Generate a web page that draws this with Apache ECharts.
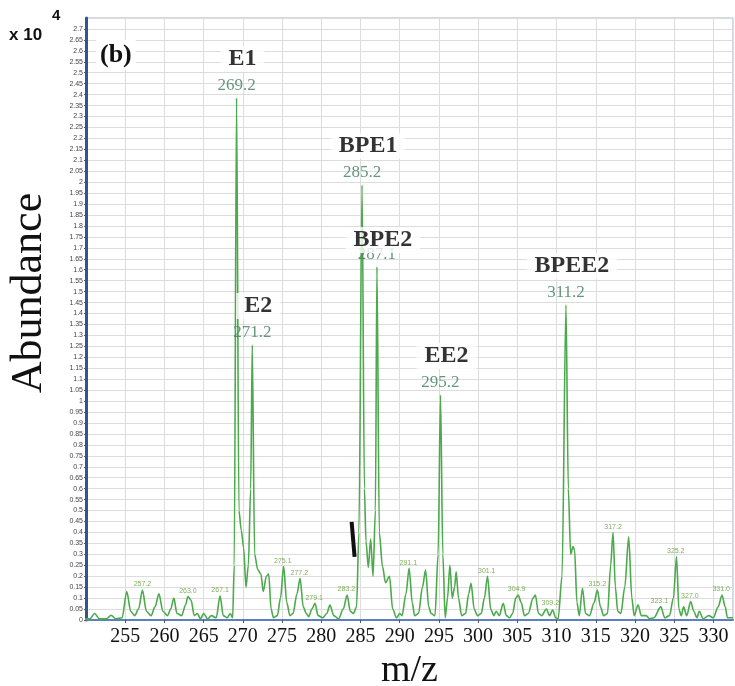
<!DOCTYPE html>
<html>
<head>
<meta charset="utf-8">
<script src="https://cdn.jsdelivr.net/npm/echarts@6/dist/echarts.min.js"></script>
<style>
  html, body { margin: 0; padding: 0; background: #fff; }
  #myChart { width: 735px; height: 686px; }
</style>
</head>
<body>
<div id="myChart"></div>
<script>
// profile trace (m/z, abundance x 10^4)
var mzProfile = [
  249.4, 250.5, 251.1, 251.7, 252.6, 253.2, 253.8, 254.6, 255.2, 255.7,
  256.2, 256.7, 257.2, 257.7, 258.3, 258.8, 259.3, 259.8, 260.4, 260.8,
  261.2, 261.6, 262.2, 262.7, 263.0, 263.4, 263.8, 264.2, 264.6, 265.0,
  265.5, 266.0, 266.6, 267.1, 267.5, 268.0, 268.4, 268.7, 268.9, 269.2,
  269.5, 269.8, 270.1, 270.4, 270.7, 271.0, 271.2, 271.5, 271.9, 272.3,
  272.6, 273.0, 273.3, 273.6, 273.9, 274.4, 274.8, 275.2, 275.6, 276.0,
  276.4, 276.9, 277.3, 277.7, 278.1, 278.4, 278.8, 279.2, 279.6, 280.2,
  280.7, 281.1, 281.6, 282.2, 282.8, 283.3, 283.7, 284.1, 284.5, 284.8,
  285.2, 285.5, 285.7, 286.0, 286.3, 286.6, 286.9, 287.1, 287.4, 287.8,
  288.2, 288.7, 289.1, 289.6, 290.0, 290.3, 290.8, 291.2, 291.6, 291.9,
  292.4, 292.9, 293.3, 293.7, 294.0, 294.5, 294.9, 295.2, 295.5, 295.8,
  296.1, 296.4, 296.7, 297.0, 297.2, 297.5, 297.9, 298.4, 298.8, 299.1,
  299.5, 299.9, 300.4, 300.8, 301.2, 301.6, 302.0, 302.3, 302.7, 303.2,
  303.6, 304.0, 304.4, 304.8, 305.1, 305.5, 305.9, 306.4, 307.0, 307.3,
  307.7, 308.1, 308.7, 309.1, 309.5, 309.9, 310.2, 310.7, 311.2, 311.5,
  311.8, 312.1, 312.3, 312.6, 312.9, 313.3, 313.7, 314.2, 314.8, 315.2,
  315.6, 316.0, 316.5, 316.9, 317.2, 317.5, 317.8, 318.2, 318.7, 319.2,
  319.6, 319.9, 320.4, 320.8, 321.4, 321.9, 322.4, 323.3, 323.8, 324.4,
  324.9, 325.3, 325.6, 325.9, 326.2, 326.6, 327.1, 327.5, 327.9, 328.2,
  328.7, 329.4, 330.0, 330.6, 331.1, 331.5, 331.8, 332.5
]
var abundanceProfile = [
  0.005, 0.005, 0.03, 0.005, 0.005, 0.022, 0.005, 0.01, 0.13, 0.04,
  0.02, 0.05, 0.137, 0.04, 0.02, 0.06, 0.12, 0.04, 0.02, 0.05,
  0.10, 0.03, 0.02, 0.07, 0.107, 0.09, 0.02, 0.03, 0.005, 0.03,
  0.005, 0.02, 0.01, 0.11, 0.02, 0.01, 0.03, 0.01, 0.25, 2.385,
  0.5, 0.41, 0.33, 0.15, 0.25, 0.6, 1.256, 0.3, 0.23, 0.21,
  0.13, 0.2, 0.21, 0.05, 0.01, 0.02, 0.1, 0.245, 0.08, 0.02,
  0.03, 0.12, 0.19, 0.06, 0.03, 0.015, 0.05, 0.076, 0.02, 0.01,
  0.03, 0.068, 0.02, 0.005, 0.05, 0.114, 0.04, 0.03, 0.06, 0.4,
  1.987, 0.6, 0.36, 0.24, 0.37, 0.2, 0.5, 1.613, 0.4, 0.245,
  0.17, 0.2, 0.05, 0.01, 0.03, 0.02, 0.12, 0.236, 0.08, 0.02,
  0.03, 0.15, 0.228, 0.06, 0.03, 0.02, 0.3, 1.028, 0.3, 0.01,
  0.1, 0.25, 0.1, 0.15, 0.22, 0.1, 0.02, 0.03, 0.12, 0.168,
  0.05, 0.02, 0.03, 0.1, 0.2, 0.05, 0.02, 0.04, 0.02, 0.076,
  0.02, 0.01, 0.03, 0.1, 0.114, 0.08, 0.02, 0.03, 0.1, 0.114,
  0.03, 0.02, 0.05, 0.02, 0.045, 0.01, 0.005, 0.2, 1.439, 0.6,
  0.3, 0.335, 0.32, 0.08, 0.02, 0.145, 0.03, 0.02, 0.08, 0.137,
  0.06, 0.02, 0.03, 0.25, 0.40, 0.15, 0.04, 0.03, 0.15, 0.38,
  0.1, 0.02, 0.07, 0.02, 0.02, 0.005, 0.01, 0.06, 0.01, 0.02,
  0.1, 0.29, 0.05, 0.02, 0.06, 0.02, 0.084, 0.04, 0.01, 0.04,
  0.005, 0.02, 0.01, 0.06, 0.114, 0.06, 0.01, 0.01
]

// annotated main peaks
var peakNames = ['E1', 'E2', 'BPE1', 'BPE2', 'EE2', 'BPEE2']
var peakMz = [269.2, 271.2, 285.2, 287.1, 295.2, 311.2]
var peakAbundance = [2.385, 1.256, 1.987, 1.613, 1.028, 1.439]

// small labelled peaks
var minorMz = [257.2, 263.0, 267.1, 275.1, 277.2, 279.1, 283.2, 291.1, 301.1,
  304.9, 309.2, 315.2, 317.2, 323.1, 325.2, 327.0, 331.0]
var minorAbundance = [0.137, 0.107, 0.11, 0.245, 0.19, 0.076, 0.114, 0.236, 0.2,
  0.114, 0.05, 0.137, 0.40, 0.06, 0.29, 0.084, 0.114]

// the black pen stroke next to 285
var penStrokeMz = [283.87, 284.25]
var penStrokeAbundance = [0.448, 0.288]

var serif = '"Liberation Serif", "DejaVu Serif", serif'
var sans = '"Liberation Sans", Arial, sans-serif'

var myChart = echarts.init(document.getElementById('myChart'))

myChart.setOption({
  backgroundColor: '#fff',
  animation: false,
  grid: {
    left: 86,
    right: 2,
    top: 18,
    bottom: 66,
    outerBoundsMode: 'none',
    containLabel: false,
    show: true,
    borderColor: '#9fb3cf',
    borderWidth: 1
  },
  graphic: [
    {
      type: 'text',
      left: 9,
      top: 27,
      z: 100,
      style: { text: 'x 10', font: 'bold 17px ' + sans, fill: '#111' }
    },
    {
      type: 'text',
      left: 52,
      top: 8,
      z: 100,
      style: { text: '4', font: 'bold 15px ' + sans, fill: '#111' }
    },
    {
      type: 'text',
      left: 96,
      top: 40,
      z: 100,
      style: {
        text: '(b)',
        font: 'bold 26px ' + serif,
        fill: '#111',
        backgroundColor: '#fff',
        padding: [2, 4]
      }
    },
    {
      // y axis title, drawn apart so it can sit where the original has it
      type: 'text',
      x: 29,
      y: 293,
      rotation: Math.PI / 2,
      z: 100,
      style: {
        text: 'Abundance',
        font: '44px ' + serif,
        fill: '#111',
        align: 'center',
        verticalAlign: 'middle'
      }
    }
  ],
  xAxis: {
    type: 'value',
    min: 250,
    max: 332.5,
    interval: 5,
    name: 'm/z',
    nameLocation: 'middle',
    nameGap: 27,
    nameTextStyle: { fontFamily: serif, fontSize: 38, color: '#111' },
    axisLine: { lineStyle: { color: '#5b7fbf', width: 2 } },
    axisTick: { show: true, length: 3, lineStyle: { color: '#555' } },
    axisLabel: {
      showMinLabel: false,
      showMaxLabel: false,
      fontFamily: serif,
      fontSize: 20,
      color: '#111',
      margin: 7
    },
    splitLine: { show: true, lineStyle: { color: '#dcdcdc', width: 1 } }
  },
  yAxis: {
    type: 'value',
    min: 0,
    max: 2.75,
    interval: 0.05,
    axisLine: { show: true, lineStyle: { color: '#2f5597', width: 3 } },
    axisTick: { show: true, length: 2, lineStyle: { color: '#555' } },
    axisLabel: {
      showMaxLabel: false,
      fontFamily: sans,
      fontSize: 7,
      color: '#444',
      margin: 3
    },
    splitLine: { show: true, lineStyle: { color: '#dcdcdc', width: 1 } }
  },
  series: [
    {
      name: 'spectrum',
      type: 'line',
      data: mzProfile.map(function (m, i) { return [m, abundanceProfile[i]] }),
      symbol: 'none',
      smooth: 0.3,
      smoothMonotone: 'x',
      lineStyle: { color: '#4caa4c', width: 1.6 },
      z: 3
    },
    {
      name: 'penStroke',
      type: 'line',
      data: penStrokeMz.map(function (m, i) { return [m, penStrokeAbundance[i]] }),
      symbol: 'none',
      lineStyle: { color: '#111', width: 4 },
      z: 4
    },
    {
      name: 'peakValues',
      type: 'scatter',
      symbolSize: 0,
      data: peakMz.map(function (m, i) { return [m, peakAbundance[i]] }),
      label: {
        show: true,
        position: 'top',
        distance: 4,
        fontFamily: serif,
        fontSize: 17,
        color: '#3d7d5a',
        formatter: function (p) { return p.value[0].toFixed(1) }
      },
      z: 5
    },
    {
      name: 'peakNames',
      type: 'scatter',
      symbolSize: 0,
      data: peakMz.map(function (m, i) {
        var item = { name: peakNames[i], value: [m, peakAbundance[i]] }
        if (peakNames[i] === 'BPE2') item.label = { distance: 14 }
        return item
      }),
      label: {
        show: true,
        position: 'top',
        distance: 26,
        offset: [6, 0],
        fontFamily: serif,
        fontWeight: 'bold',
        fontSize: 24,
        color: '#000',
        backgroundColor: '#fff',
        padding: [1, 8],
        formatter: '{b}'
      },
      z: 6
    },
    {
      name: 'minorPeaks',
      type: 'scatter',
      symbolSize: 0,
      data: minorMz.map(function (m, i) { return [m, minorAbundance[i]] }),
      label: {
        show: true,
        position: 'top',
        distance: 2,
        fontFamily: sans,
        fontSize: 7,
        color: '#5e9c2e',
        formatter: function (p) { return p.value[0].toFixed(1) }
      },
      z: 5
    }
  ]
})

window.addEventListener('resize', function () { myChart.resize() })
</script>
</body>
</html>
